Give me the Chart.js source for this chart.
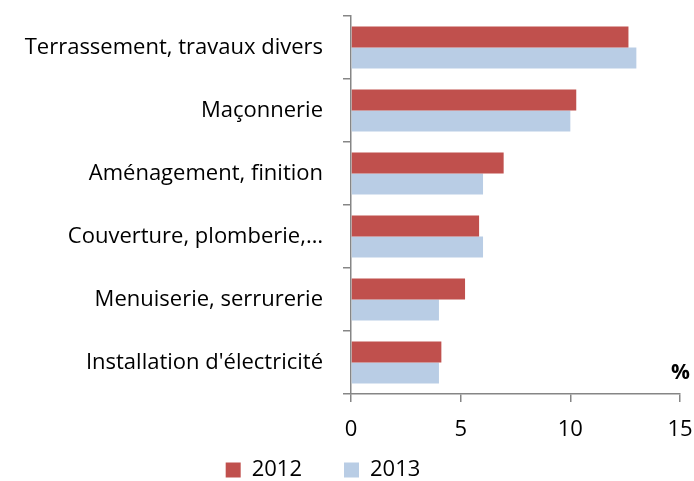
<!DOCTYPE html>
<html>
<head>
<meta charset="utf-8">
<script src="https://cdn.jsdelivr.net/npm/chart.js@4/dist/chart.umd.min.js"></script>
<style>
  html, body { margin: 0; padding: 0; background: #fff; overflow: hidden; }
  #wrap { width: 694px; height: 481px; position: relative; }
</style>
</head>
<body>
<div id="wrap"><canvas id="chart"></canvas></div>
<script>
// donnees (%)
const categories = [
    "Terrassement, travaux divers",
    "Maçonnerie",
    "Aménagement, finition",
    "Couverture, plomberie,…",
    "Menuiserie, serrurerie",
    "Installation d'électricité"
];
const values2012 = [12.65, 10.27, 6.96, 5.84, 5.2, 4.12];
const values2013 = [13.01, 10.0, 6.02, 6.02, 4.01, 4.01];
const xTicks = [0, 5, 10, 15];

const FONT = "'Open Sans', sans-serif";
const FONT_SIZE = 22;
const AXIS_GREY = "#868686";

// "%" en bas a droite de la zone de tracé
const percentLabel = {
    id: "percentLabel",
    afterDraw(chart) {
        const ctx = chart.ctx;
        const area = chart.chartArea;
        ctx.save();
        ctx.font = "bold 21px " + FONT;
        ctx.fillStyle = "#000";
        ctx.textAlign = "right";
        ctx.textBaseline = "alphabetic";
        ctx.fillText("%", area.right + 10, area.bottom - 15);
        ctx.restore();
    }
};

// element vide pour espacer les deux entrees de la legende
const blankItem = {
    text: "",
    fillStyle: "rgba(0,0,0,0)",
    strokeStyle: "rgba(0,0,0,0)",
    lineWidth: 0,
    hidden: false,
    datasetIndex: -1
};

new Chart(document.getElementById("chart"), {
    type: "bar",
    data: {
        labels: categories,
        datasets: [
            {
                label: "2012",
                data: values2012,
                backgroundColor: "#C0504D",
                categoryPercentage: 0.67,
                barPercentage: 1.0
            },
            {
                label: "2013",
                data: values2013,
                backgroundColor: "#B9CDE5",
                categoryPercentage: 0.67,
                barPercentage: 1.0
            }
        ]
    },
    options: {
        indexAxis: "y",
        responsive: true,
        maintainAspectRatio: false,
        animation: false,
        layout: { padding: { top: 16, right: 14, left: 0, bottom: -10 } },
        plugins: {
            legend: {
                position: "bottom",
                labels: {
                    font: { family: FONT, size: FONT_SIZE },
                    color: "#000",
                    boxWidth: 15,
                    boxHeight: 15,
                    padding: 8,
                    generateLabels: chart => {
                        const items = Chart.defaults.plugins.legend.labels.generateLabels(chart);
                        items.forEach(it => { it.lineWidth = 0; });
                        return [items[0], blankItem, items[1], Object.assign({}, blankItem)];
                    }
                }
            },
            tooltip: { enabled: false },
            title: { display: false }
        },
        scales: {
            x: {
                min: 0,
                max: 15,
                afterBuildTicks: axis => { axis.ticks = xTicks.map(v => ({ value: v })); },
                afterFit: axis => {
                    axis.height = 57;
                    axis.paddingLeft = 0;
                    axis.paddingRight = 0;
                },
                grid: {
                    drawOnChartArea: false,
                    drawTicks: true,
                    tickLength: 8,
                    color: AXIS_GREY,
                    lineWidth: 1.5
                },
                border: { color: AXIS_GREY, width: 1.5 },
                ticks: {
                    font: { family: FONT, size: FONT_SIZE },
                    color: "#000",
                    padding: 15,
                    maxRotation: 0
                }
            },
            y: {
                afterFit: axis => {
                    axis.width = 351;
                    axis.paddingTop = 0;
                    axis.paddingBottom = 0;
                },
                grid: {
                    offset: true,
                    drawOnChartArea: false,
                    drawTicks: true,
                    tickLength: 8,
                    color: AXIS_GREY,
                    lineWidth: 1.5
                },
                border: { color: AXIS_GREY, width: 1.5 },
                ticks: {
                    font: { family: FONT, size: FONT_SIZE },
                    color: "#000",
                    padding: 20
                }
            }
        }
    },
    plugins: [percentLabel]
});
</script>
</body>
</html>
